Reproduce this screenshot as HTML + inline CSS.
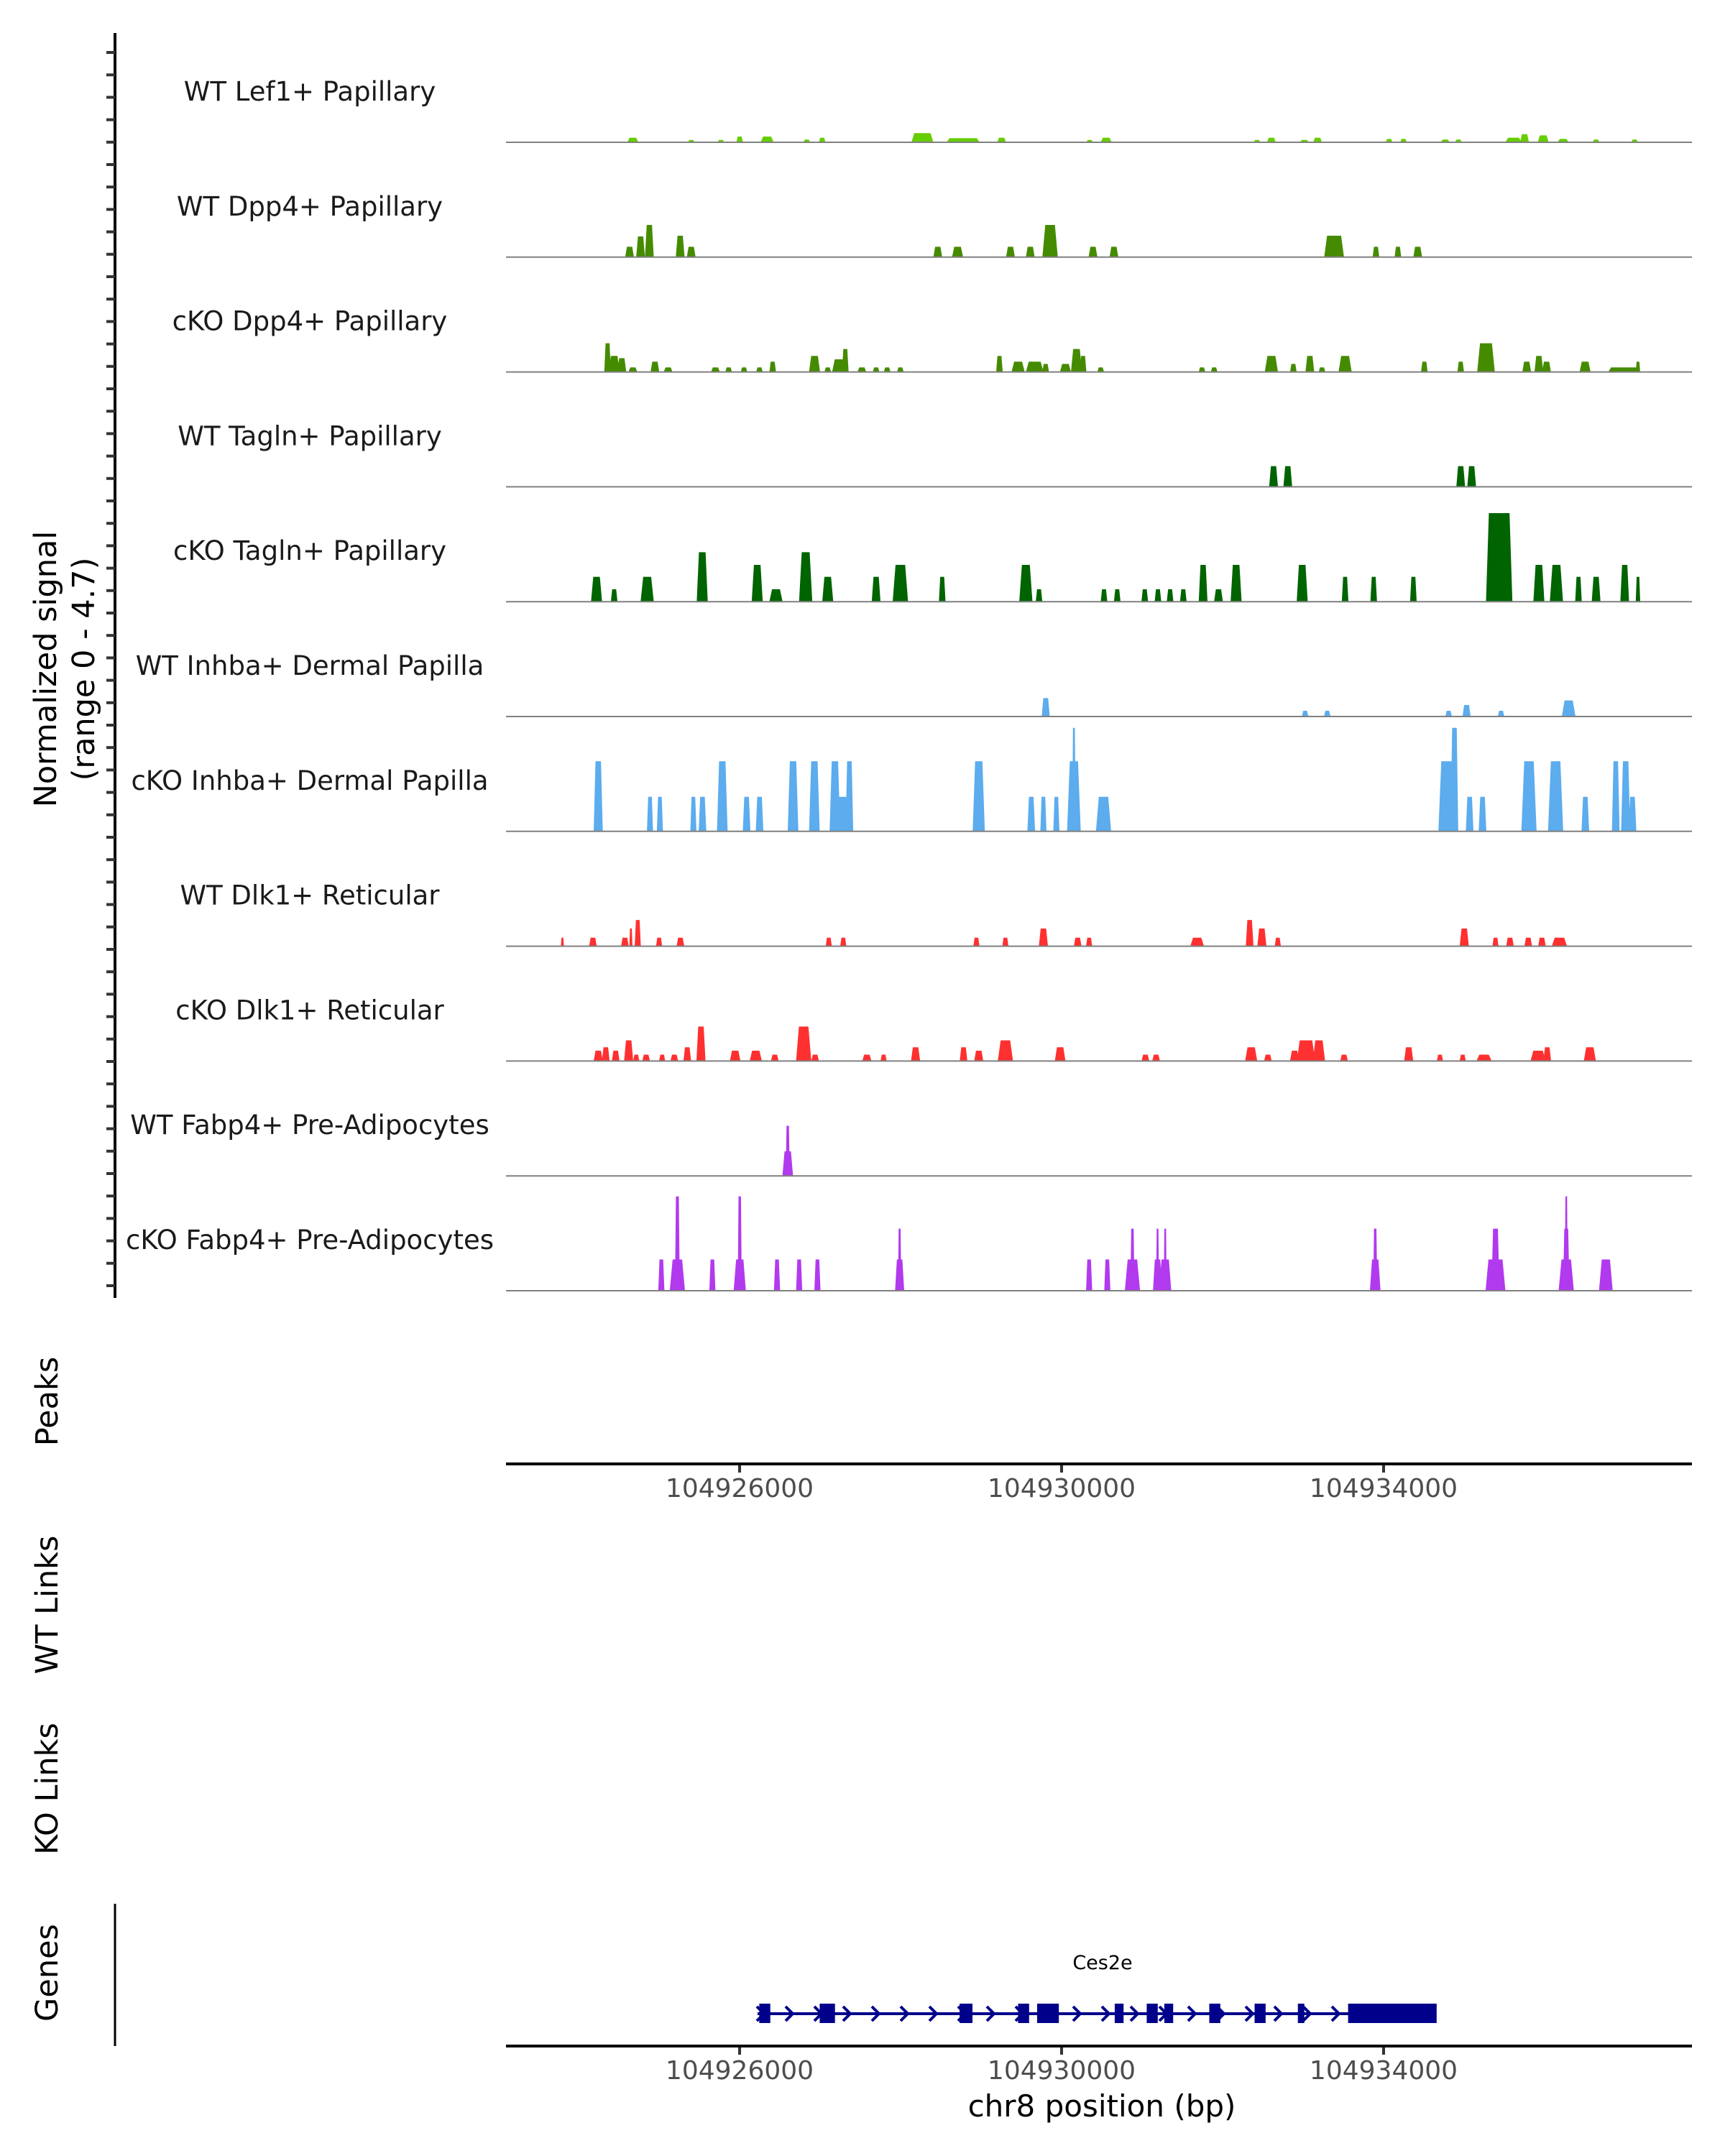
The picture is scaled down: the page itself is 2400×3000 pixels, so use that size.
<!DOCTYPE html>
<html><head><meta charset="utf-8">
<style>
html,body{margin:0;padding:0;background:#fff;}
svg{display:block;font-family:"DejaVu Sans","Liberation Sans",sans-serif;}
</style></head>
<body>
<svg id="chart" width="2400" height="3000" viewBox="0 0 2400 3000" xmlns="http://www.w3.org/2000/svg">
<rect x="0" y="0" width="2400" height="3000" fill="#fff"/>
<g id="ylab">
<text transform="translate(78,931) rotate(-90)" text-anchor="middle" font-size="43" fill="#000">Normalized signal</text>
<text transform="translate(131,931) rotate(-90)" text-anchor="middle" font-size="43" fill="#000">(range 0 - 4.7)</text>
<text transform="translate(80,1950) rotate(-90)" text-anchor="middle" font-size="43" fill="#000">Peaks</text>
<text transform="translate(80,2233) rotate(-90)" text-anchor="middle" font-size="43" fill="#000">WT Links</text>
<text transform="translate(80,2489) rotate(-90)" text-anchor="middle" font-size="43" fill="#000">KO Links</text>
<text transform="translate(80,2745) rotate(-90)" text-anchor="middle" font-size="43" fill="#000">Genes</text>
</g>
<line x1="160" y1="46" x2="160" y2="1806" stroke="#000" stroke-width="4"/>
<line x1="160" y1="2649" x2="160" y2="2847" stroke="#000" stroke-width="3"/>
<g id="ticks"></g>
<g id="tracks"></g>
<g id="xaxes"></g>
<g id="gene"></g>
<text x="1533" y="2945" text-anchor="middle" font-size="42" fill="#000">chr8 position (bp)</text>
</svg>
<script>
const xTicks = [104926000, 104930000, 104934000];
const trackNames = ["WT Lef1+ Papillary","WT Dpp4+ Papillary","cKO Dpp4+ Papillary","WT Tagln+ Papillary","cKO Tagln+ Papillary","WT Inhba+ Dermal Papilla","cKO Inhba+ Dermal Papilla","WT Dlk1+ Reticular","cKO Dlk1+ Reticular","WT Fabp4+ Pre-Adipocytes","cKO Fabp4+ Pre-Adipocytes"];
const trackColors = ["#66cd00","#458b00","#458b00","#006400","#006400","#5cacee","#5cacee","#ff3030","#ff3030","#b23aee","#b23aee"];
// peaks: [center kb, width kb, value]
const lef1WT = [[104924.674,.137,.2],[104925.399,.082,.1],[104925.768,.082,.1],[104926.001,.082,.25],[104926.342,.164,.25],[104926.835,.082,.12],[104927.026,.082,.2],[104928.271,.273,.4],[104928.777,.41,.18],[104929.255,.109,.2],[104930.349,.082,.1],[104930.554,.137,.2],[104932.428,.082,.1],[104932.606,.109,.2],[104933.016,.109,.1],[104933.180,.109,.2],[104934.069,.082,.15],[104934.247,.082,.15],[104934.766,.109,.12],[104934.930,.082,.12],[104935.614,.205,.2],[104935.751,.109,.35],[104935.983,.137,.3],[104936.230,.137,.15],[104936.640,.082,.12],[104937.118,.082,.12]];
const dpp4WT = [[104924.633,.109,.45],[104924.770,.109,.9],[104924.879,.109,1.4],[104925.262,.109,.93],[104925.399,.109,.45],[104928.462,.109,.45],[104928.708,.137,.45],[104929.365,.109,.45],[104929.611,.109,.45],[104929.857,.191,1.4],[104930.390,.109,.45],[104930.650,.109,.45],[104933.385,.246,.93],[104933.905,.082,.45],[104934.178,.082,.45],[104934.424,.109,.45]];
const dpp4KO = [[104924.360,.082,1.25],[104924.442,.137,.7],[104924.537,.109,.6],[104924.674,.109,.2],[104924.948,.109,.45],[104925.112,.109,.2],[104925.700,.109,.2],[104925.864,.082,.2],[104926.055,.082,.2],[104926.247,.082,.2],[104926.411,.082,.45],[104926.931,.137,.7],[104927.095,.082,.2],[104927.231,.164,.55],[104927.313,.082,1.0],[104927.519,.109,.2],[104927.696,.082,.2],[104927.833,.082,.2],[104927.997,.082,.2],[104929.228,.082,.7],[104929.460,.164,.45],[104929.666,.219,.45],[104929.802,.082,.35],[104930.048,.137,.35],[104930.185,.137,1.0],[104930.267,.082,.7],[104930.486,.082,.2],[104931.744,.082,.2],[104931.895,.082,.2],[104932.606,.164,.7],[104932.879,.082,.35],[104933.084,.109,.7],[104933.235,.082,.2],[104933.522,.164,.7],[104934.506,.082,.45],[104934.958,.082,.45],[104935.272,.219,1.25],[104935.778,.109,.45],[104935.929,.109,.7],[104936.024,.109,.45],[104936.503,.137,.45],[104936.982,.383,.2],[104937.160,.055,.45]];
const taglnWT = [[104932.633,.109,.9],[104932.810,.109,.9],[104934.958,.109,.9],[104935.094,.109,.9]];
const taglnKO = [[104924.223,.137,1.08],[104924.442,.082,.54],[104924.852,.164,1.08],[104925.536,.137,2.15],[104926.219,.137,1.6],[104926.452,.164,.54],[104926.821,.164,2.15],[104927.095,.137,1.08],[104927.696,.109,1.08],[104927.997,.191,1.6],[104928.517,.082,1.08],[104929.556,.164,1.6],[104929.720,.082,.54],[104930.527,.082,.54],[104930.691,.082,.54],[104931.033,.082,.54],[104931.197,.082,.54],[104931.348,.082,.54],[104931.512,.082,.54],[104931.758,.109,1.6],[104931.949,.109,.54],[104932.168,.137,1.6],[104932.989,.137,1.6],[104933.522,.082,1.08],[104933.877,.082,1.08],[104934.370,.082,1.08],[104935.436,.328,3.85],[104935.929,.137,1.6],[104936.147,.164,1.6],[104936.421,.082,1.08],[104936.640,.109,1.08],[104936.995,.109,1.6],[104937.160,.055,1.08]];
const inhbaWT = [[104929.803,.1,.8],[104933.025,.08,.25],[104933.300,.08,.25],[104934.808,.08,.25],[104935.031,.1,.5],[104935.459,.08,.25],[104936.299,.17,.7]];
const inhbaKO = [[104924.244,.113,3.05],[104924.887,.076,1.5],[104925.010,.076,1.5],[104925.426,.076,1.5],[104925.539,.095,1.5],[104925.785,.132,3.05],[104926.087,.095,1.5],[104926.248,.095,1.5],[104926.664,.132,3.05],[104926.929,.132,3.05],[104927.184,.132,3.05],[104927.278,.151,1.5],[104927.364,.095,3.05],[104928.971,.151,3.05],[104929.623,.095,1.5],[104929.774,.076,1.5],[104929.935,.076,1.5],[104930.153,.17,3.05],[104930.153,.04,4.5],[104930.521,.189,1.5],[104934.785,.208,3.05],[104934.880,.095,4.5],[104935.069,.095,1.5],[104935.229,.095,1.5],[104935.806,.189,3.05],[104936.137,.189,3.05],[104936.506,.095,1.5],[104936.884,.095,3.05],[104937.007,.113,3.05],[104937.092,.095,1.5]];
const dlk1WT = [[104923.799,.038,.37],[104924.178,.095,.37],[104924.575,.095,.37],[104924.650,.038,.77],[104924.735,.076,1.14],[104925.000,.076,.37],[104925.265,.095,.37],[104927.108,.076,.37],[104927.288,.076,.37],[104928.942,.076,.37],[104929.302,.076,.37],[104929.774,.113,.77],[104930.200,.095,.37],[104930.342,.076,.37],[104931.684,.17,.37],[104932.336,.095,1.14],[104932.488,.113,.77],[104932.686,.076,.37],[104935.002,.113,.77],[104935.390,.076,.37],[104935.570,.095,.37],[104935.797,.095,.37],[104935.967,.095,.37],[104936.184,.189,.37]];
const dlk1KO = [[104924.244,.113,.45],[104924.338,.095,.6],[104924.461,.095,.45],[104924.622,.113,.9],[104924.716,.076,.28],[104924.839,.095,.28],[104925.038,.076,.28],[104925.189,.095,.28],[104925.350,.095,.6],[104925.520,.113,1.5],[104925.945,.132,.45],[104926.201,.151,.45],[104926.437,.095,.28],[104926.796,.189,1.5],[104926.938,.095,.28],[104927.581,.113,.28],[104927.789,.076,.28],[104928.186,.113,.6],[104928.782,.095,.6],[104928.971,.113,.45],[104929.302,.189,.9],[104929.982,.132,.6],[104931.041,.095,.28],[104931.174,.095,.28],[104932.355,.151,.6],[104932.563,.095,.28],[104932.894,.113,.45],[104933.036,.227,.9],[104933.197,.151,.9],[104933.509,.095,.28],[104934.312,.113,.6],[104934.700,.076,.28],[104934.983,.076,.28],[104935.248,.189,.28],[104935.919,.189,.45],[104936.033,.095,.6],[104936.562,.151,.6]];
const fabp4WT = [[104926.598,.132,1.07],[104926.598,.05,2.18]];
const fabp4KO = [[104925.028,.076,1.36],[104925.227,.189,1.36],[104925.227,.06,4.1],[104925.662,.076,1.36],[104926.002,.151,1.36],[104926.002,.05,4.1],[104926.465,.076,1.36],[104926.740,.076,1.36],[104926.967,.076,1.36],[104927.988,.113,1.36],[104927.988,.04,2.7],[104930.342,.076,1.36],[104930.568,.076,1.36],[104930.880,.189,1.36],[104930.880,.05,2.7],[104931.192,.113,1.36],[104931.192,.03,2.7],[104931.287,.151,1.36],[104931.287,.03,2.7],[104933.896,.132,1.36],[104933.896,.05,2.7],[104935.390,.246,1.36],[104935.390,.1,2.7],[104936.269,.189,1.36],[104936.269,.08,2.7],[104936.269,.03,4.1],[104936.761,.17,1.36]];
const trackData = [lef1WT,dpp4WT,dpp4KO,taglnWT,taglnKO,inhbaWT,inhbaKO,dlk1WT,dlk1KO,fabp4WT,fabp4KO];
const geneName = "Ces2e";
const geneStartKb = 104926.223, geneEndKb = 104934.654;
const exonCenters = [104926.313,104927.090,104928.813,104929.528,104929.831,104930.715,104931.126,104931.331,104931.903,104932.466,104932.975,104934.109];
const exonWidths = [.137,.19,.16,.137,.27,.11,.137,.11,.137,.137,.08,1.10];

const NS="http://www.w3.org/2000/svg";
function mk(tag, attrs, parent){const e=document.createElementNS(NS,tag);for(const k in attrs)e.setAttribute(k,attrs[k]);parent.appendChild(e);return e;}
const X0=704, X1=2354;
function xScale(kb){return 1029+(kb-104926)*112;}
function baseY(i){return 198+159.8*i;}
function yLen(v){return v*32;}

const tk=document.getElementById('ticks');
for(let y=73;y<=1800;y+=31.2){
  const t=mk('line',{x1:148,x2:160,y1:y.toFixed(1),y2:y.toFixed(1),stroke:'#333','stroke-width':4},tk);
  
  
}

const tg=document.getElementById('tracks');
trackData.forEach((peaks,i)=>{
  const b=baseY(i);
  const g=mk('g',{},tg);
  
  
  const lab=mk('text',{x:431,y:(b-58).toFixed(1),'text-anchor':'middle','font-size':37,fill:'#1a1a1a'},g);
  lab.textContent=trackNames[i];
  
  
  peaks.forEach(p=>{
    let x0=xScale(p[0]-p[1]/2), x1=xScale(p[0]+p[1]/2);
    if(x1-x0<4){const c=(x0+x1)/2;x0=c-2;x1=c+2;}
    const w=x1-x0, h=yLen(p[2]), s=Math.min(w*0.2,4);
    const poly=mk('polygon',{points:`${x0},${b} ${x0+s},${b-h} ${x1-s},${b-h} ${x1},${b}`,fill:trackColors[i]},g);
    
    
  });
  const bl=mk('line',{x1:X0,x2:X1,y1:b,y2:b,stroke:'#808080','stroke-width':2},g);
  
  
});

const xa=document.getElementById('xaxes');
[2037,2847].forEach((ay,j)=>{
  const l=mk('line',{x1:X0,x2:X1,y1:ay,y2:ay,stroke:'#000','stroke-width':4},xa);
  
  
  xTicks.forEach(t=>{
    const x=xScale(t/1000);
    const tl=mk('line',{x1:x,x2:x,y1:ay+2,y2:ay+12,stroke:'#333','stroke-width':4},xa);
    
    
    const tt=mk('text',{x:x,y:ay+46,'text-anchor':'middle','font-size':36,fill:'#4d4d4d'},xa);
    tt.textContent=String(t);
    
    
  });
});

const gg=document.getElementById('gene');
const gy=2802;
const gl=mk('line',{x1:xScale(geneStartKb),x2:xScale(geneEndKb),y1:gy,y2:gy,stroke:'#00008b','stroke-width':4},gg);


for(let x=xScale(geneStartKb)+4;x<xScale(geneEndKb)-100;x+=40){
  const ch=mk('polyline',{points:`${x-5},${gy-10} ${x+5},${gy} ${x-5},${gy+10}`,fill:'none',stroke:'#00008b','stroke-width':4},gg);
  
  
}
exonCenters.forEach((c,k)=>{
  const x0=xScale(c-exonWidths[k]/2), x1=xScale(c+exonWidths[k]/2);
  const r=mk('rect',{x:x0,y:gy-14,width:Math.max(x1-x0,4),height:27,fill:'#00008b'},gg);
  
  
});
const gt=mk('text',{x:1534,y:2740,'text-anchor':'middle','font-size':27,fill:'#000'},gg);
gt.textContent=geneName;


</script>
</body></html>
